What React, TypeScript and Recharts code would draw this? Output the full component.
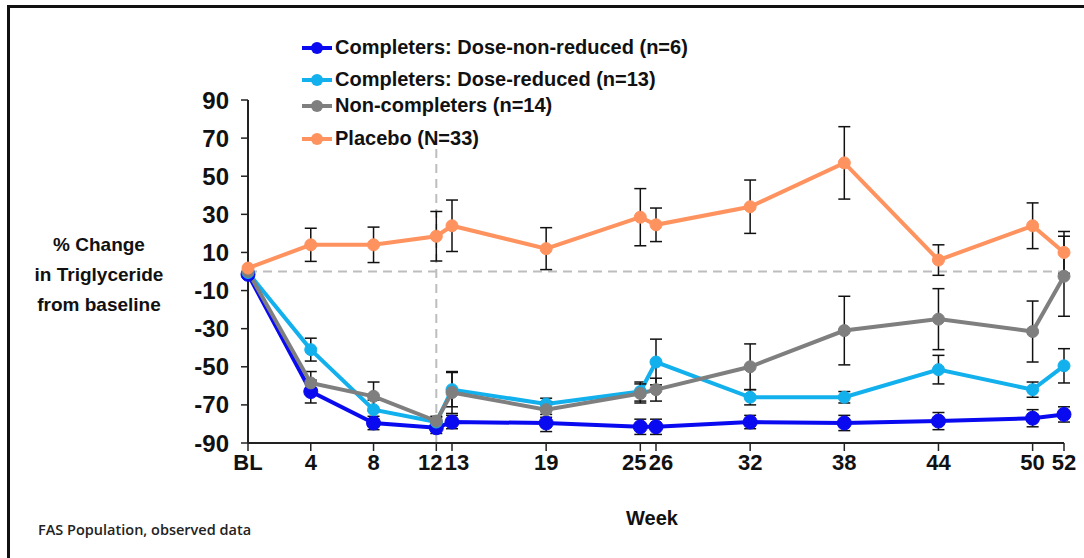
import React from 'react';
import {
  ErrorBar,
  Line,
  LineChart,
  ReferenceLine,
  XAxis,
  YAxis,
} from 'recharts';

// weeks (0 = baseline)
const weeks = [0, 4, 8, 12, 13, 19, 25, 26, 32, 38, 44, 50, 52];
const yTicks = [-90, -70, -50, -30, -10, 10, 30, 50, 70, 90];

const nonReduced = [-1.5, -63, -79.5, -82, -79, -79.5, -81.5, -81.5, -79, -79.5, -78.5, -77, -75];
const nonReducedErr = [0, 6, 3.5, 3, 3.5, 4.5, 4, 4, 3.5, 4, 4.5, 4.5, 4];

const reduced = [-0.5, -41, -72.5, -79, -62, -69.5, -63, -47.5, -66, -66, -51.5, -62, -49.5];
const reducedErr = [0, 6, 5, 2.5, 9, 3, 5, 12, 4, 3, 7.5, 4, 9];

const nonCompleters = [0, -58.5, -65.5, -78.5, -63.5, -72.5, -64, -62, -50, -31, -25, -31.5, -2.5];
const nonCompletersErr = [0, 6, 7.5, 2.5, 11, 4, 5, 6, 12, 18, 16, 16, 21];

const placebo = [1.8, 14, 14, 18.5, 24, 12, 28.5, 24.5, 34, 57, 6, 24, 10];
const placeboErr = [0, 8.7, 9.3, 13, 13.5, 11, 15, 8.8, 14, 19, 8, 12, 11];

const data = weeks.map((w, i) => ({
  week: w,
  nonReduced: nonReduced[i],
  nonReducedErr: nonReducedErr[i],
  reduced: reduced[i],
  reducedErr: reducedErr[i],
  nonCompleters: nonCompleters[i],
  nonCompletersErr: nonCompletersErr[i],
  placebo: placebo[i],
  placeboErr: placeboErr[i],
}));

const series = [
  { key: 'nonReduced', name: 'Completers: Dose-non-reduced (n=6)', color: '#0A0AF0', r: 7 },
  { key: 'reduced', name: 'Completers: Dose-reduced (n=13)', color: '#12B0EC', r: 6 },
  { key: 'nonCompleters', name: 'Non-completers (n=14)', color: '#7F7F7F', r: 6 },
  { key: 'placebo', name: 'Placebo (N=33)', color: '#FF935F', r: 6 },
];

const legendTops = [36, 68, 94, 127];

const font = '"Liberation Sans", Arial, sans-serif';

// nudge crowded week labels apart
const labelShift: Record<number, number> = { 12: -6, 13: 5, 25: -6, 26: 5 };

const WeekTick = (props: any) => {
  const { x, y, payload } = props;
  const v = payload.value as number;
  return (
    <text
      x={x + (labelShift[v] || 0)}
      y={y}
      dy={17}
      textAnchor="middle"
      fill="#111"
      fontSize={22}
      fontWeight={700}
      fontFamily={font}
    >
      {v === 0 ? 'BL' : String(v)}
    </text>
  );
};

export default function App() {
  return (
    <div
      style={{
        position: 'absolute',
        left: 0,
        top: 0,
        width: 1084,
        height: 558,
        background: '#fff',
        fontFamily: font,
        overflow: 'hidden',
      }}
    >
      <LineChart
        width={1084}
        height={558}
        data={data}
        margin={{ top: 100, right: 20, bottom: 75, left: 0 }}
      >
        <XAxis
          dataKey="week"
          type="number"
          domain={[0, 52]}
          ticks={weeks}
          interval={0}
          height={40}
          axisLine={{ stroke: '#222', strokeWidth: 2 }}
          tickLine={{ stroke: '#222', strokeWidth: 1.5 }}
          tickSize={8}
          tick={<WeekTick />}
        />
        <YAxis
          type="number"
          domain={[-90, 90]}
          ticks={yTicks}
          interval={0}
          width={248}
          axisLine={{ stroke: '#222', strokeWidth: 2 }}
          tickLine={{ stroke: '#222', strokeWidth: 1.5 }}
          tickSize={7}
          tickMargin={12}
          tick={{ fill: '#111', fontSize: 24, fontWeight: 700, fontFamily: font }}
        />
        <ReferenceLine
          y={0}
          stroke="#BDBDBD"
          strokeWidth={2}
          strokeDasharray="9 6"
        />
        <ReferenceLine
          segment={[
            { x: 12, y: -90 },
            { x: 12, y: 65 },
          ]}
          stroke="#BDBDBD"
          strokeWidth={2}
          strokeDasharray="9 6"
        />
        {series.map((s) => (
          <Line
            key={s.key}
            dataKey={s.key}
            name={s.name}
            stroke={s.color}
            strokeWidth={4}
            dot={{ r: s.r, fill: s.color, stroke: s.color, strokeWidth: 1 }}
            activeDot={false}
            isAnimationActive={false}
          >
            <ErrorBar
              dataKey={`${s.key}Err`}
              width={6}
              stroke="#111"
              strokeWidth={1.5}
              direction="y"
            />
          </Line>
        ))}
      </LineChart>

      {/* frame: top and left edges only */}
      <div
        style={{
          position: 'absolute',
          left: 7,
          top: 5,
          width: 1077,
          height: 3,
          background: '#111',
          zIndex: 10,
        }}
      />
      <div
        style={{
          position: 'absolute',
          left: 7,
          top: 5,
          width: 3,
          height: 553,
          background: '#111',
          zIndex: 10,
        }}
      />

      {series.map((s, i) => (
        <div
          key={s.key}
          style={{
            position: 'absolute',
            left: 301,
            top: legendTops[i],
            display: 'flex',
            alignItems: 'center',
            fontSize: 20,
            fontWeight: 700,
            color: '#111',
            whiteSpace: 'nowrap',
          }}
        >
          <svg width={32} height={20} style={{ marginRight: 2 }}>
            <line x1={1} y1={10} x2={31} y2={10} stroke={s.color} strokeWidth={4} />
            <circle cx={16} cy={10} r={6} fill={s.color} />
          </svg>
          {s.name}
        </div>
      ))}

      <div
        style={{
          position: 'absolute',
          left: 19,
          top: 230,
          width: 160,
          textAlign: 'center',
          fontSize: 19,
          fontWeight: 700,
          lineHeight: '30px',
          color: '#111',
        }}
      >
        % Change
        <br />
        in Triglyceride
        <br />
        from baseline
      </div>

      <div
        style={{
          position: 'absolute',
          left: 612,
          top: 507,
          width: 80,
          textAlign: 'center',
          fontSize: 20,
          fontWeight: 700,
          color: '#111',
        }}
      >
        Week
      </div>

      <div
        style={{
          position: 'absolute',
          left: 38,
          top: 520,
          fontSize: 14.5,
          fontWeight: 600,
          fontFamily: '"Open Sans", "Noto Sans", sans-serif',
          color: '#222',
        }}
      >
        FAS Population, observed data
      </div>
    </div>
  );
}
